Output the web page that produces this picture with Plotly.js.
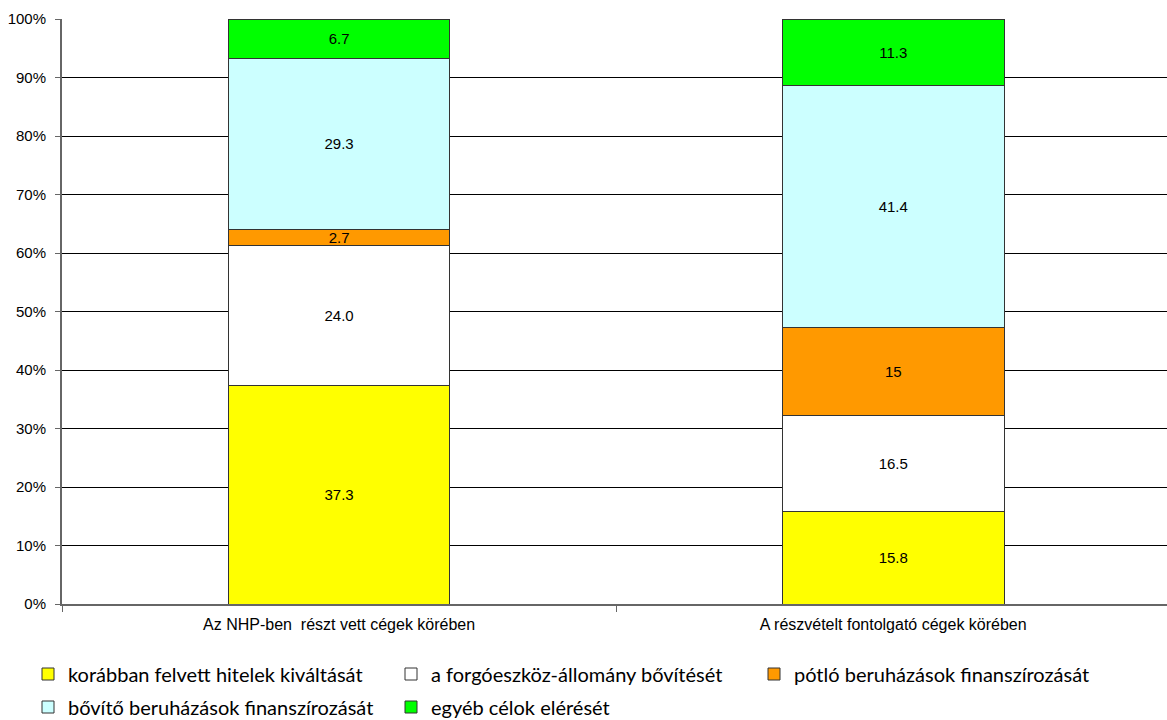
<!DOCTYPE html>
<html>
<head>
<meta charset="utf-8">
<script src="https://cdn.plot.ly/plotly-3.0.1.min.js"></script>
<style>html,body{margin:0;padding:0;background:#fff;}#chart{width:1167px;height:720px;}</style>
</head>
<body>
<div id="chart"></div>
<script>
const categories = ["Az NHP-ben  részt vett cégek körében", "A részvételt fontolgató cégek körében"];
const seriesNames = ["korábban felvett hitelek kiváltását", "a forgóeszköz-állomány bővítését", "pótló beruházások finanszírozását", "bővítő beruházások finanszírozását", "egyéb célok elérését"];
const korabban = [37.3, 15.8];
const forgoeszkoz = [24.0, 16.5];
const potlo = [2.7, 15];
const bovito = [29.3, 41.4];
const egyeb = [6.7, 11.3];
const labelsKorabban = ["37.3", "15.8"];
const labelsForgo = ["24.0", "16.5"];
const labelsPotlo = ["2.7", "15"];
const labelsBovito = ["29.3", "41.4"];
const labelsEgyeb = ["6.7", "11.3"];
const yTickVals = [0,10,20,30,40,50,60,70,80,90,100];
const yTickText = ["0%","10%","20%","30%","40%","50%","60%","70%","80%","90%","100%"];

const colors = ["#FFFF00", "#FFFFFF", "#FF9900", "#CCFFFF", "#00FF00"];
const values = [korabban, forgoeszkoz, potlo, bovito, egyeb];
const labels = [labelsKorabban, labelsForgo, labelsPotlo, labelsBovito, labelsEgyeb];
const legendOf = ["legend", "legend", "legend", "legend2", "legend2"];

const traces = values.map((v, i) => ({
  type: "bar",
  x: categories,
  y: v,
  name: seriesNames[i],
  text: labels[i],
  textposition: "inside",
  insidetextanchor: "middle",
  textangle: 0,
  constraintext: "none",
  textfont: {family: "Liberation Sans, Arial, sans-serif", size: 15, color: "#000"},
  marker: {color: colors[i], line: {color: "#333333", width: 1}},
  width: 0.4,
  legend: legendOf[i],
  hoverinfo: "none"
}));

const legendFont = {family: "Lato, 'Noto Sans', sans-serif", size: 20, color: "#000"};

const legendBase = {
  orientation: "h",
  x: 28/1167,
  xanchor: "left",
  xref: "container",
  yref: "container",
  yanchor: "middle",
  font: legendFont,
  entrywidth: 318,
  entrywidthmode: "pixels",
  itemwidth: 30,
  traceorder: "normal",
  bgcolor: "rgba(0,0,0,0)"
};

const layout = {
  width: 1167,
  height: 720,
  barmode: "stack",
  paper_bgcolor: "#fff",
  plot_bgcolor: "#fff",
  margin: {l: 62, r: 0, t: 19, b: 116},
  showlegend: true,
  xaxis: {
    type: "category",
    range: [-0.5, 1.494],
    showgrid: false,
    showline: true,
    linecolor: "#666666",
    linewidth: 2,
    ticks: "outside",
    tickson: "boundaries",
    ticklen: 6,
    tickcolor: "#666666",
    tickwidth: 1,
    tickfont: {family: "Liberation Sans, Arial, sans-serif", size: 16, color: "#000"},
    ticklabelstandoff: 5,
    fixedrange: true
  },
  yaxis: {
    range: [0, 100],
    tickvals: yTickVals,
    ticktext: yTickText,
    showgrid: true,
    gridcolor: "#000000",
    gridwidth: 1,
    showline: true,
    linecolor: "#666666",
    linewidth: 2,
    ticks: "outside",
    ticklen: 5,
    tickcolor: "#666666",
    tickfont: {family: "Liberation Sans, Arial, sans-serif", size: 15, color: "#000"},
    ticklabelstandoff: 6,
    zeroline: false,
    fixedrange: true
  },
  legend: Object.assign({}, legendBase, {y: 46/720}),
  legend2: Object.assign({}, legendBase, {y: 13/720})
};

Plotly.newPlot("chart", traces, layout, {displayModeBar: false, staticPlot: true});
</script>
</body>
</html>
